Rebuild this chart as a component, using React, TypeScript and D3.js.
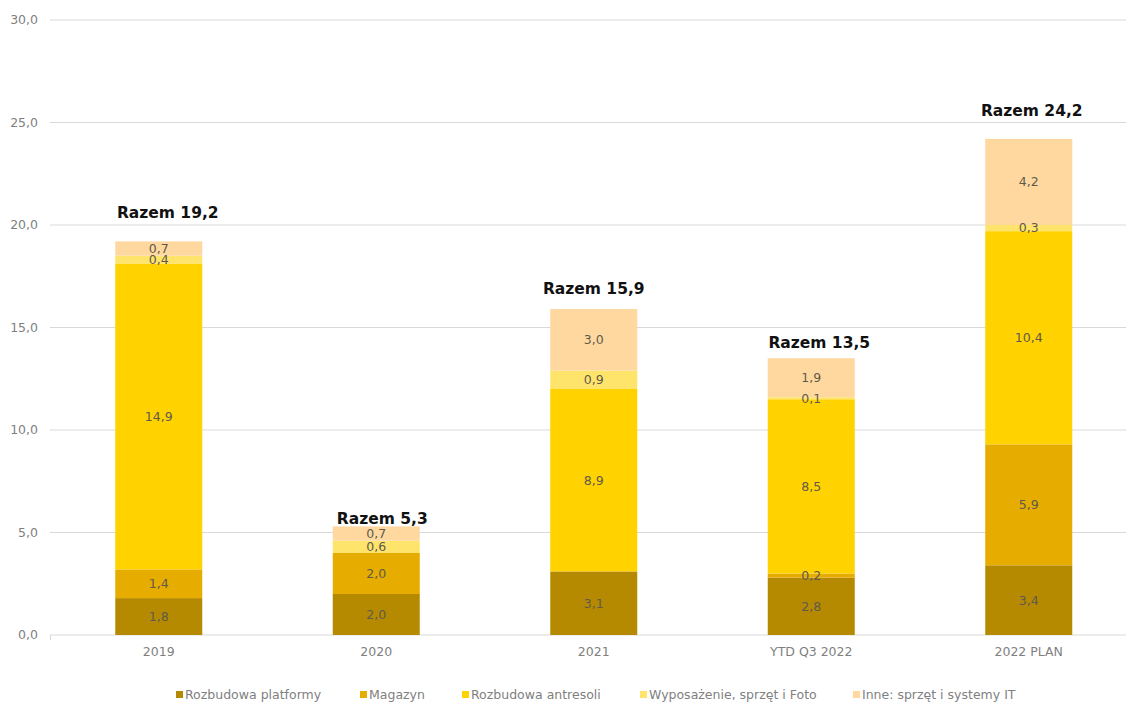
import React from "react";
import * as d3 from "d3";

const categories = ["2019", "2020", "2021", "YTD Q3 2022", "2022 PLAN"];
const seriesNames = [
  "Rozbudowa platformy",
  "Magazyn",
  "Rozbudowa antresoli",
  "Wyposażenie, sprzęt i Foto",
  "Inne: sprzęt i systemy IT",
];
const platformy = [1.8, 2.0, 3.1, 2.8, 3.4];
const magazyn = [1.4, 2.0, 0, 0.2, 5.9];
const antresoli = [14.9, 0, 8.9, 8.5, 10.4];
const wyposazenie = [0.4, 0.6, 0.9, 0.1, 0.3];
const inne = [0.7, 0.7, 3.0, 1.9, 4.2];
const totals = [19.2, 5.3, 15.9, 13.5, 24.2];
const yTicks = [0, 5, 10, 15, 20, 25, 30];

const colors = ["#B68A00", "#E6AC00", "#FFD200", "#FFE46C", "#FFD8A0"];
// layout nudges for the "Razem" labels (px), as placed in the original
const razemDy = [23, 2, 15, 10, 23];
const razemDx = [9, 6, 0, 8, 3];

const W = 1126;
const H = 702;
const FONT = "'DejaVu Sans', sans-serif";

export default function App() {
  const series = [platformy, magazyn, antresoli, wyposazenie, inne];
  const table = categories.map((c, i) => {
    const row: any = { cat: c };
    seriesNames.forEach((s, k) => (row[s] = series[k][i]));
    return row;
  });
  const stack = d3.stack().keys(seriesNames)(table as any);

  const x = d3.scaleBand().domain(categories).range([50, 1137.5]).paddingInner(0.6).paddingOuter(0.3);
  const y = d3.scaleLinear().domain([0, 30]).range([635, 20]);
  const fmt = (v: number) => d3.format(".1f")(v).replace(".", ",");

  const legendX = [176, 360, 462, 640, 853];

  return (
    <svg width={W} height={H} style={{ position: "absolute", left: 0, top: 0, background: "#fff" }} fontFamily={FONT}>
      {yTicks.map((t) => (
        <g key={t}>
          <line x1={50} x2={W} y1={y(t)} y2={y(t)} stroke="#d9d9d9" strokeWidth={1} />
          <text x={38} y={y(t)} dy="0.35em" textAnchor="end" fontSize={12.5} fill="#7f7f7f">
            {fmt(t)}
          </text>
        </g>
      ))}
      <line x1={50.5} x2={50.5} y1={635} y2={640} stroke="#d9d9d9" />
      {stack.map((layer, k) => (
        <g key={k} fill={colors[k]}>
          {layer.map((d, i) =>
            d[1] - d[0] > 0 ? (
              <rect
                key={i}
                x={x(categories[i])!}
                width={x.bandwidth()}
                y={y(d[1])}
                height={y(d[0]) - y(d[1])}
              />
            ) : null
          )}
        </g>
      ))}
      {stack.map((layer, k) => (
        <g key={"l" + k}>
          {layer.map((d, i) =>
            d[1] - d[0] > 0 ? (
              <text
                key={i}
                x={x(categories[i])! + x.bandwidth() / 2}
                y={(y(d[0]) + y(d[1])) / 2}
                dy="0.35em"
                textAnchor="middle"
                fontSize={12.5}
                fill="#5f5a4a"
              >
                {fmt(d[1] - d[0])}
              </text>
            ) : null
          )}
        </g>
      ))}
      {categories.map((c, i) => (
        <text
          key={"r" + i}
          x={x(c)! + x.bandwidth() / 2 + razemDx[i]}
          y={y(totals[i]) - razemDy[i]}
          textAnchor="middle"
          fontSize={15.5}
          fontWeight="bold"
          fill="#111"
        >
          {"Razem " + fmt(totals[i])}
        </text>
      ))}
      {categories.map((c) => (
        <text key={"x" + c} x={x(c)! + x.bandwidth() / 2} y={652} dy="0.35em" textAnchor="middle" fontSize={12.5} fill="#7f7f7f">
          {c}
        </text>
      ))}
      {seriesNames.map((s, k) => (
        <g key={"lg" + k} transform={`translate(${legendX[k]},695)`}>
          <rect x={0} y={-4} width={7} height={7} fill={colors[k]} />
          <text x={9} y={0} dy="0.35em" fontSize={12.5} fill="#7f7f7f">
            {s}
          </text>
        </g>
      ))}
    </svg>
  );
}
